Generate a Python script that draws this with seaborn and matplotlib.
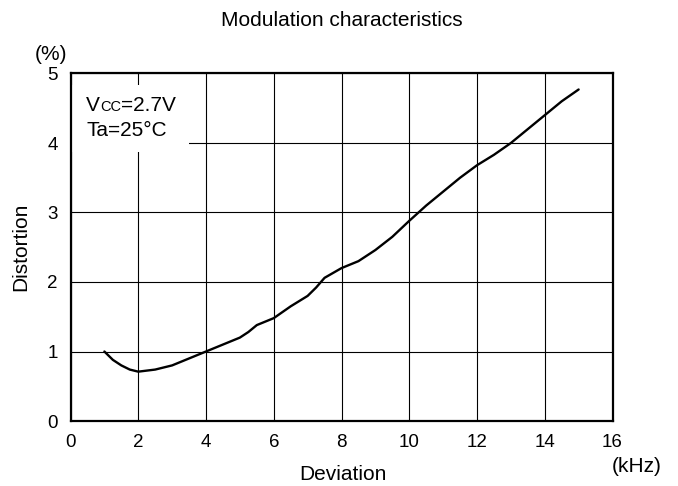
import matplotlib
matplotlib.use("Agg")
import pandas as pd
import seaborn as sns
import matplotlib.pyplot as plt
from matplotlib.patches import Rectangle
from matplotlib.offsetbox import TextArea, HPacker, AnnotationBbox

# данные
deviation = [1.0, 1.25, 1.5, 1.75, 2.0, 2.5, 3.0, 3.5, 4.0, 4.5, 5.0, 5.25, 5.5,
             6.0, 6.5, 7.0, 7.25, 7.5, 8.0, 8.5, 9.0, 9.5, 10.0, 10.5, 11.0,
             11.5, 12.0, 12.5, 13.0, 13.5, 14.0, 14.5, 15.0]
distortion = [1.0, 0.88, 0.8, 0.74, 0.71, 0.74, 0.8, 0.9, 1.0, 1.1, 1.2, 1.28, 1.38,
              1.48, 1.65, 1.8, 1.92, 2.06, 2.2, 2.3, 2.46, 2.65, 2.88, 3.1, 3.3,
              3.5, 3.68, 3.83, 4.0, 4.2, 4.4, 4.6, 4.77]
x_ticks = [0, 2, 4, 6, 8, 10, 12, 14, 16]
y_ticks = [0, 1, 2, 3, 4, 5]

df = pd.DataFrame({"Deviation": deviation, "Distortion": distortion})

sns.set_style("white")
plt.rcParams['font.family'] = ['Liberation Sans', 'DejaVu Sans']
plt.rcParams['text.color'] = 'black'
plt.rcParams['axes.labelcolor'] = 'black'
plt.rcParams['xtick.color'] = 'black'
plt.rcParams['ytick.color'] = 'black'

fig = plt.figure(figsize=(6.78, 4.86), dpi=100)
ax = fig.add_axes([70.5 / 678, 65 / 486, 542 / 678, 347.5 / 486])

ax.set_axisbelow(True)
ax.grid(True, color="black", linewidth=0.8)

# белая подложка под подписью условий
ax.add_patch(Rectangle((0, 3.87), 3.5, 0.96, facecolor="white", edgecolor="none", zorder=1))

sns.lineplot(data=df, x="Deviation", y="Distortion", color="black", linewidth=1.7, ax=ax, zorder=3)

ax.set_xlim(0, 16)
ax.set_ylim(0, 5)
ax.set_xticks(x_ticks)
ax.set_yticks(y_ticks)
ax.tick_params(length=0, labelsize=13.5, pad=9, colors="black")
for s in ax.spines.values():
    s.set_color("black")
    s.set_linewidth(1.6)

ax.set_xlabel("Deviation", fontsize=15, color="black")
ax.set_ylabel("Distortion", fontsize=15, color="black")
ax.xaxis.label.set_va("center")
ax.yaxis.label.set_va("center")
ax.xaxis.set_label_coords(0.503, -0.155)
ax.yaxis.set_label_coords(-0.091, 0.5)

# Vcc=2.7V с маленькими CC
parts = [TextArea("V", textprops=dict(fontsize=15, color="black")),
         TextArea("CC", textprops=dict(fontsize=10.5, color="black")),
         TextArea("=2.7V", textprops=dict(fontsize=15, color="black"))]
vcc = HPacker(children=parts, align="baseline", pad=0, sep=0)
ab = AnnotationBbox(vcc, (0.46, 4.4), xycoords="data", box_alignment=(0, 0), frameon=False, pad=0)
ab.set_zorder(4)
ax.add_artist(ab)
ax.text(0.46, 4.1, "Ta=25°C", fontsize=15, va="baseline", ha="left", color="black", zorder=4)

fig.text(341.5 / 678, 1 - 26.5 / 486, "Modulation characteristics", fontsize=15, ha="center", va="baseline", color="black")
fig.text(51 / 678, 1 - 55 / 486, "(%)", fontsize=15, ha="center", va="center", color="black")
fig.text(637 / 678, 1 - 466 / 486, "(kHz)", fontsize=15, ha="center", va="center", color="black")

plt.savefig("out.png", dpi=100)
